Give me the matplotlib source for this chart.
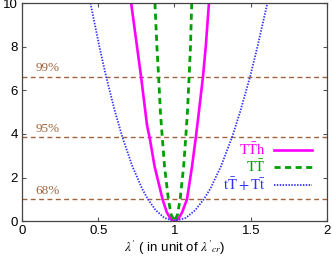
import numpy as np
import matplotlib.pyplot as plt

# chi^2 values (value, lambda'/lambda'_cr)
tth_lam = [0.716, 0.781, 0.82, 0.837, 0.87, 0.922, 0.95, 0.975, 1.0,
           1.025, 1.05, 1.082, 1.115, 1.14, 1.16, 1.187, 1.205, 1.226]
tth_chi = [10, 6.63, 4.4, 3.84, 2.5, 1.0, 0.4, 0.1, 0.0,
           0.1, 0.4, 1.0, 2.5, 3.84, 5.0, 6.63, 8.0, 10]

tt_lam = [0.872, 0.885, 0.896, 0.908, 0.92, 0.935, 0.96, 0.978, 1.0,
          1.02, 1.037, 1.06, 1.074, 1.085, 1.096, 1.105, 1.113]
tt_chi = [10, 8, 6.63, 5.0, 3.84, 2.5, 1.0, 0.3, 0.0,
          0.3, 1.0, 2.5, 3.84, 5.0, 6.63, 8.0, 10]

single_lam = [0.449, 0.508, 0.552, 0.611, 0.659, 0.725, 0.787, 0.826, 0.877, 0.933, 1.0,
              1.075, 1.136, 1.192, 1.236, 1.304, 1.377, 1.430, 1.496, 1.544, 1.609]
single_chi = [10, 8, 6.63, 5.0, 3.84, 2.5, 1.5, 1.0, 0.5, 0.15, 0.0,
              0.15, 0.5, 1.0, 1.5, 2.5, 3.84, 5.0, 6.63, 8.0, 10]

cl_levels = [1.0, 3.84, 6.63]
cl_names = ["68%", "95%", "99%"]

plt.rcParams['font.family'] = ['Liberation Sans', 'DejaVu Sans']
plt.rcParams['mathtext.fontset'] = 'stix'

fig = plt.figure(figsize=(3.32, 2.58), dpi=100)
ax = fig.add_axes([0.066, 0.143, 0.919, 0.845])

brown = '#a0643c'
for lev, name in zip(cl_levels, cl_names):
    ax.axhline(lev, color=brown, ls=(0, (3.5, 2.5)), lw=1.0, zorder=1)
    ax.text(0.245, lev + 0.1, name, color=brown, ha='right', va='bottom',
            fontsize=9.5, family='Liberation Serif')

ax.plot(tth_lam, tth_chi, color='#ff00ff', lw=1.9, label=r'$\mathrm{T\bar{T}h}$')
ax.plot(tt_lam, tt_chi, color='#00a000', lw=2.0, ls=(0, (2.2, 1.6)), label=r'$\mathrm{T\bar{T}}$')
ax.plot(single_lam, single_chi, color='#3030ff', lw=1.3, ls=(0, (0.8, 0.8)),
        label=r'$\mathrm{t\bar{T}+T\bar{t}}$')

ax.set_xlim(0, 2)
ax.set_ylim(0, 10)
ax.set_xticks([0, 0.5, 1, 1.5, 2])
ax.set_xticklabels(['0', '0.5', '1', '1.5', '2'])
ax.set_yticks([0, 2, 4, 6, 8, 10])
ax.tick_params(direction='in', length=3, width=0.8, labelsize=9.5, top=True, right=True,
               color='#555555', pad=3)
for s in ax.spines.values():
    s.set_color('#444444')
    s.set_linewidth(0.9)
ax.set_xlabel(r"$\lambda'$ ( in unit of $\lambda'_{cr}$)", fontsize=9.5, labelpad=1)

leg = ax.legend(loc='lower right', bbox_to_anchor=(0.985, 0.08), frameon=False,
                markerfirst=False, labelcolor='linecolor', fontsize=10.5,
                handlelength=2.6, handletextpad=0.6, labelspacing=0.05, borderpad=0.2)

fig.savefig('out.png', dpi=100)
